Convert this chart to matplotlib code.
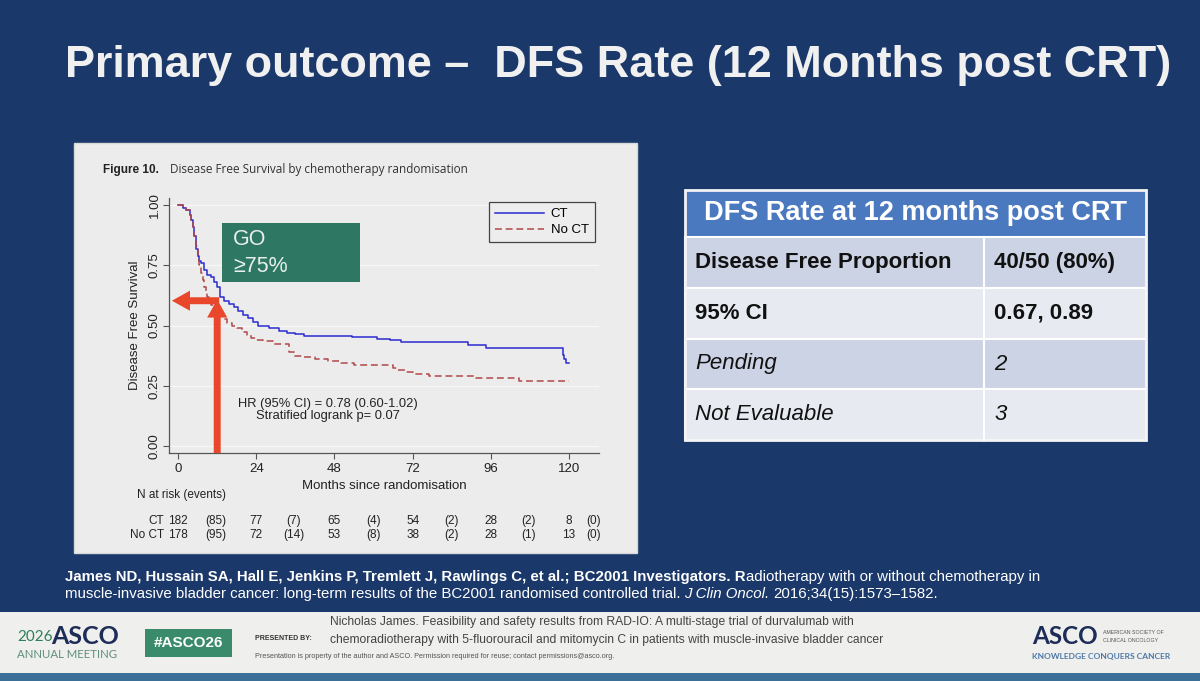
import matplotlib
matplotlib.use('Agg')
import matplotlib.pyplot as plt
from matplotlib.patches import Rectangle
from matplotlib.transforms import blended_transform_factory

plt.rcParams['font.family'] = ['Liberation Sans', 'DejaVu Sans']

# Kaplan-Meier steps (months, disease free survival)
ct_months = [0, 1.5, 2.5, 3.5, 4.0, 4.5, 5.0, 5.5, 6.0, 6.5, 7.0, 8.0, 9.0, 10.0, 11.0,
             12.0, 13.0, 14.0, 15.5, 17.0, 18.5, 20.0, 21.5, 23.0, 24.5, 28.0, 31.0,
             33.5, 36.0, 38.5, 53.5, 61.0, 65.0, 68.5, 89.0, 94.5, 118.0, 118.6, 119.0, 120.0]
ct_surv = [1.0, 0.99, 0.98, 0.96, 0.94, 0.91, 0.87, 0.82, 0.79, 0.77, 0.76, 0.73, 0.71,
           0.70, 0.68, 0.66, 0.62, 0.60, 0.59, 0.575, 0.56, 0.545, 0.53, 0.515, 0.50,
           0.49, 0.478, 0.47, 0.465, 0.458, 0.452, 0.445, 0.438, 0.43, 0.42, 0.405,
           0.378, 0.362, 0.346, 0.346]

noct_months = [0, 1.5, 2.5, 3.5, 4.0, 4.5, 5.0, 5.5, 6.0, 6.5, 7.0, 7.5, 8.0, 8.5, 9.0,
               9.5, 10.0, 11.0, 12.0, 13.0, 14.0, 15.0, 16.5, 18.0, 19.5, 21.0, 22.5,
               24.0, 26.0, 29.0, 33.0, 34.0, 35.5, 38.0, 42.0, 46.0, 50.0, 54.0, 66.0,
               67.5, 69.5, 72.0, 77.0, 91.5, 104.5, 120.0]
noct_surv = [1.0, 0.99, 0.98, 0.96, 0.94, 0.91, 0.87, 0.83, 0.79, 0.75, 0.72, 0.69, 0.66,
             0.64, 0.62, 0.60, 0.585, 0.565, 0.55, 0.54, 0.525, 0.51, 0.50, 0.49, 0.475,
             0.46, 0.45, 0.44, 0.435, 0.425, 0.422, 0.39, 0.375, 0.368, 0.36, 0.353,
             0.345, 0.335, 0.322, 0.313, 0.305, 0.298, 0.29, 0.281, 0.27, 0.27]

# numbers at risk (events)
risk_months = [0, 24, 48, 72, 96, 120]
event_months = [11.5, 35.5, 60, 84, 107.5, 127.5]
ct_at_risk = [182, 77, 65, 54, 28, 8]
ct_events = [85, 7, 4, 2, 2, 0]
noct_at_risk = [178, 72, 53, 38, 28, 13]
noct_events = [95, 14, 8, 2, 1, 0]

table_labels = ['Disease Free Proportion', '95% CI', 'Pending', 'Not Evaluable']
table_values = ['40/50 (80%)', '0.67, 0.89', '2', '3']
table_styles = ['bold', 'bold', 'italic', 'italic']

W, H = 1200, 681
NAVY = '#1b386a'
fig = plt.figure(figsize=(W / 100, H / 100), dpi=100)
fig.patch.set_facecolor(NAVY)

# slide layer in pixel coordinates
bg = fig.add_axes([0, 0, 1, 1])
bg.set_xlim(0, W)
bg.set_ylim(H, 0)
bg.axis('off')

bg.text(65, 77, 'Primary outcome \u2013  DFS Rate (12 Months post CRT)', fontsize=32.4,
        fontweight='bold', color='#f0f0f0', va='baseline', ha='left')

bg.add_patch(Rectangle((74, 143), 563, 410, fc='#ececec', ec='#d8d8d8', lw=1))
bg.text(103, 170, 'Figure 10.', fontsize=8.5, fontweight='bold', color='#222', va='center')
bg.text(170, 170, 'Disease Free Survival by chemotherapy randomisation', fontsize=8.5,
        color='#333', va='center', family=['Open Sans', 'DejaVu Sans'])

# table on the right
tx0, tx1, tdiv = 685, 1146, 984
row_edges = [237, 288, 339, 389, 440]
row_colors = ['#ccd3e4', '#e7eaf1', '#ccd3e4', '#e7eaf1']
bg.add_patch(Rectangle((tx0, 190), tx1 - tx0, 47, fc='#4a79c0', ec='none'))
bg.text((tx0 + tx1) / 2, 213, 'DFS Rate at 12 months post CRT', fontsize=19.5,
        fontweight='bold', color='white', ha='center', va='center')
for i, (lab, val, sty) in enumerate(zip(table_labels, table_values, table_styles)):
    y0, y1 = row_edges[i], row_edges[i + 1]
    bg.add_patch(Rectangle((tx0, y0), tx1 - tx0, y1 - y0, fc=row_colors[i], ec='white', lw=1.5))
    bg.plot([tdiv, tdiv], [y0, y1], color='white', lw=1.5)
    kw = dict(fontsize=16, color='#111', va='center')
    if sty == 'bold':
        kw['fontweight'] = 'bold'
    else:
        kw['fontstyle'] = 'italic'
    bg.text(695, (y0 + y1) / 2, lab, **kw)
    bg.text(994, (y0 + y1) / 2, val, **kw)
bg.add_patch(Rectangle((tx0, 190), tx1 - tx0, 250, fc='none', ec='#f4f4f4', lw=2))

# reference, drawn piece by piece
renderer = fig.canvas.get_renderer()


def run_text(x, y, pieces, size):
    t = None
    for s, style in pieces:
        t = bg.text(x, y, s, fontsize=size, color='white', va='center', **style)
        x += t.get_window_extent(renderer=renderer).width + size * 0.36
    return t


ref_size = 10.8
t_b = run_text(65, 577, [('James ND, Hussain SA, Hall E, Jenkins P, Tremlett J, Rawlings C, '
                          'et al.; BC2001 Investigators. R', {'fontweight': 'bold'})], ref_size)
bx = t_b.get_window_extent(renderer=renderer).x1
bg.text(bx + 0.5, 577, 'adiotherapy with or without chemotherapy in', fontsize=ref_size,
        color='white', va='center')
run_text(65, 594, [('muscle-invasive bladder cancer: long-term results of the BC2001 '
                    'randomised controlled trial.', {}),
                   ('J Clin Oncol.', {'fontstyle': 'italic'}),
                   ('2016;34(15):1573\u20131582.', {})], ref_size)

# footer
bg.add_patch(Rectangle((0, 612), W, 61, fc='#efefed', ec='none'))
bg.add_patch(Rectangle((0, 673), W, 8, fc='#3c6f98', ec='none'))
bg.text(17, 637, '2026', fontsize=11, color='#2f7d5c', va='center', family=['Lato', 'DejaVu Sans'])
bg.text(51, 636, 'ASCO', fontsize=18, fontweight='bold', color='#1e2d58', va='center',
        family=['Lato', 'DejaVu Sans'])
bg.text(17, 654, 'ANNUAL MEETING', fontsize=8.2, color='#5e8f7c', va='center',
        family=['Lato', 'DejaVu Sans'])
bg.add_patch(Rectangle((145, 629), 87, 28, fc='#3a8a6c', ec='none'))
bg.text(188.5, 643, '#ASCO26', fontsize=11, fontweight='bold', color='white',
        ha='center', va='center')
bg.text(255, 638, 'PRESENTED BY:', fontsize=5, fontweight='bold', color='#333', va='center')
bg.text(330, 622, 'Nicholas James. Feasibility and safety results from RAD-IO: A multi-stage '
        'trial of durvalumab with', fontsize=8.75, color='#444', va='center')
bg.text(330, 640, 'chemoradiotherapy with 5-fluorouracil and mitomycin C in patients with '
        'muscle-invasive bladder cancer', fontsize=8.75, color='#444', va='center')
bg.text(255, 657, 'Presentation is property of the author and ASCO. Permission required for '
        'reuse; contact permissions@asco.org.', fontsize=5.2, color='#555', va='center')
bg.text(1032, 637, 'ASCO', fontsize=17.5, fontweight='bold', color='#1e2d58', va='center',
        family=['Lato', 'DejaVu Sans'])
bg.text(1103, 632, 'AMERICAN SOCIETY OF', fontsize=3.8, color='#555', va='center')
bg.text(1103, 641, 'CLINICAL ONCOLOGY', fontsize=3.8, color='#555', va='center')
bg.text(1032, 656, 'KNOWLEDGE CONQUERS CANCER', fontsize=6, color='#4b78a8', va='center',
        fontweight='bold', family=['Lato', 'DejaVu Sans'])

# KM chart
ax = fig.add_axes([169 / W, 1 - 453 / H, 430 / W, 255 / H])
ax.set_facecolor('none')
ax.step(ct_months, ct_surv, where='post', color='#2b2bd0', lw=1.1, label='CT', zorder=3)
ax.step(noct_months, noct_surv, where='post', color='#b04848', lw=1.1,
        ls=(0, (4.5, 2.5)), label='No CT', zorder=3)
ax.set_xlim(-2.8, 129.2)
ax.set_ylim(-0.03, 1.03)
ax.set_xticks(risk_months)
ax.set_yticks([0, 0.25, 0.5, 0.75, 1.0])
ax.set_yticklabels(['%.2f' % v for v in [0, 0.25, 0.5, 0.75, 1.0]], rotation=90, va='center')
ax.tick_params(direction='out', length=4, width=0.8, colors='#555', labelcolor='#222',
               labelsize=9.5)
ax.tick_params(axis='y', pad=2)
ax.tick_params(axis='x', pad=3)
for s in ['top', 'right']:
    ax.spines[s].set_visible(False)
for s in ['left', 'bottom']:
    ax.spines[s].set_color('#555')
    ax.spines[s].set_linewidth(0.9)
ax.yaxis.grid(True, color='#f7f7f7', lw=0.9)
ax.set_axisbelow(True)

ax.text(0.5, (453 - 486) / 255, 'Months since randomisation', transform=ax.transAxes,
        ha='center', va='center', fontsize=9.5, color='#222')
ax.text((135 - 169) / 430, 0.5, 'Disease Free Survival', transform=ax.transAxes,
        rotation=90, ha='center', va='center', fontsize=9.5, color='#222')

leg = ax.legend(loc='upper right', bbox_to_anchor=(0.99, 0.984), borderaxespad=0,
                fancybox=False, edgecolor='#444', facecolor='#ededed', framealpha=1,
                fontsize=9.5, handlelength=3.7, handletextpad=0.5, labelspacing=0.3,
                borderpad=0.45)
leg.get_frame().set_linewidth(0.9)

ax.text(46, 0.174, 'HR (95% CI) = 0.78 (0.60-1.02)', ha='center', va='center',
        fontsize=9.3, color='#222')
ax.text(46, 0.122, 'Stratified logrank p= 0.07', ha='center', va='center',
        fontsize=9.3, color='#222')

# risk table under the axis
tr = blended_transform_factory(ax.transData, ax.transAxes)
ax.text(-12.6, (453 - 495) / 255, 'N at risk (events)', transform=tr, ha='left',
        va='center', fontsize=8.5, color='#222')
for yrow, lab, nrisk, nev in [((453 - 521) / 255, 'CT', ct_at_risk, ct_events),
                              ((453 - 535) / 255, 'No CT', noct_at_risk, noct_events)]:
    ax.text(-4.4, yrow, lab, transform=tr, ha='right', va='center', fontsize=8.5, color='#222')
    for m, n in zip(risk_months, nrisk):
        ax.text(m, yrow, str(n), transform=tr, ha='center', va='center', fontsize=8.5,
                color='#222')
    for m, e in zip(event_months, nev):
        ax.text(m, yrow, '(%d)' % e, transform=tr, ha='center', va='center', fontsize=8.5,
                color='#222')

# GO box and red arrows (slide annotations)
ax.add_patch(Rectangle((13.5, 0.68), 42.3, 0.245, fc='#2d7763', ec='none', zorder=4))
ax.text(16.8, 0.857, 'GO', fontsize=15.5, color='#e8f0ec', va='center', zorder=5)
ax.text(16.8, 0.745, '\u226575%', fontsize=15.5, color='#e8f0ec', va='center', zorder=5)
arrow_style = 'simple,head_length=1.3,head_width=1.45,tail_width=0.5'
ax.annotate('', xy=(12, 0.608), xytext=(12, -0.03), annotation_clip=False, zorder=6,
            arrowprops=dict(arrowstyle=arrow_style, color='#e8472b', mutation_scale=10,
                            shrinkA=0, shrinkB=0, lw=0))
ax.annotate('', xy=(-1.9, 0.603), xytext=(12.6, 0.603), annotation_clip=False, zorder=6,
            arrowprops=dict(arrowstyle=arrow_style, color='#e8472b', mutation_scale=10,
                            shrinkA=0, shrinkB=0, lw=0))

fig.savefig('out.png', dpi=100, facecolor=fig.get_facecolor())
